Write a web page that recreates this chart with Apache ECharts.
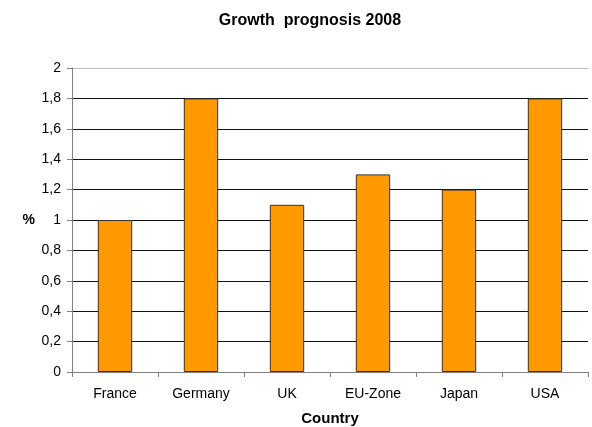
<!DOCTYPE html>
<html><head><meta charset="utf-8">
<script src="https://cdn.jsdelivr.net/npm/echarts@6/dist/echarts.min.js"></script>
<style>html,body{margin:0;padding:0;background:#fff}#c{width:592px;height:427px}</style>
</head><body><div id="c"></div>
<script>
const categories = ["France","Germany","UK","EU-Zone","Japan","USA"];
const growth = [1.0, 1.8, 1.1, 1.3, 1.2, 1.8];
const titleText = "Growth  prognosis 2008";
const yName = "%";
const xName = "Country";

const chart = echarts.init(document.getElementById('c'), null, {renderer:'canvas'});
const font = "Liberation Sans, Arial, sans-serif";
const gridColors = ['#111','#111','#111','#111','#111','#111','#111','#111','#111','#111','#bbb'];
chart.setOption({
  animation:false,
  title:{text:titleText,left:305,textAlign:'center',top:8,textStyle:{fontFamily:font,fontSize:16,fontWeight:'bold',color:'#000'}},
  grid:{left:72,right:4,top:68,bottom:55,containLabel:false,outerBoundsMode:'none'},
  xAxis:{type:'category',data:categories,name:xName,nameLocation:'middle',nameGap:39,
    nameTextStyle:{fontFamily:font,fontSize:15,fontWeight:'bold',color:'#000'},
    axisLine:{lineStyle:{color:'#808080',width:1}},
    axisTick:{show:true,length:5,lineStyle:{color:'#808080'}},
    axisLabel:{fontFamily:font,fontSize:14,color:'#000',margin:15}},
  yAxis:{type:'value',min:0,max:2,interval:0.2,name:yName,nameLocation:'middle',nameGap:37,nameRotate:0,
    nameTextStyle:{fontFamily:font,fontSize:14,fontWeight:'bold',color:'#000'},
    axisLine:{show:true,lineStyle:{color:'#808080',width:1}},
    axisTick:{show:true,length:5,lineStyle:{color:'#808080'}},
    axisLabel:{fontFamily:font,fontSize:14,color:'#000',margin:11,
      formatter:v=>String(Math.round(v*10)/10).replace('.',',')},
    splitLine:{lineStyle:{color:gridColors,width:1}}},
  series:[{type:'bar',data:growth,barWidth:'40%',
    itemStyle:{color:'#FF9900',borderColor:'#333',borderWidth:1}}]
});
</script></body></html>
